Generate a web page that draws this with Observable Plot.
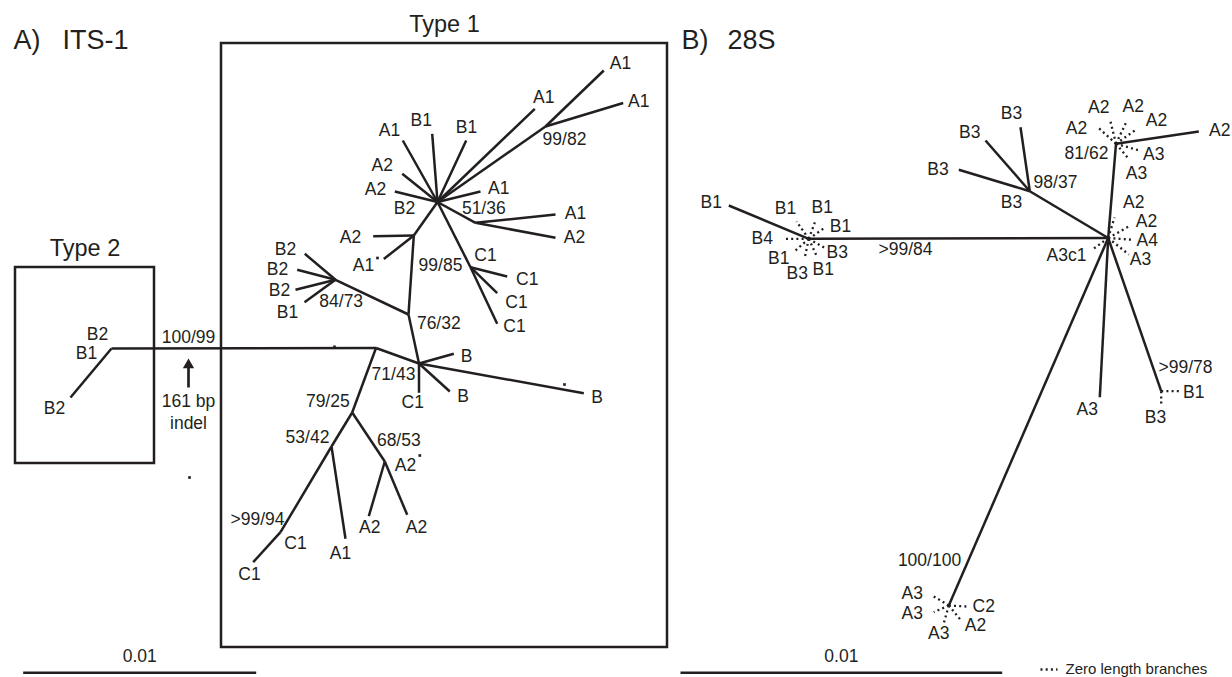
<!DOCTYPE html>
<html>
<head>
<meta charset="utf-8">
<script src="https://cdn.jsdelivr.net/npm/d3@7"></script>
<script src="https://cdn.jsdelivr.net/npm/@observablehq/plot@0.6"></script>
<style>
  html, body { margin: 0; padding: 0; background: #fff; }
  #chart svg { display: block; }
</style>
</head>
<body>
<div id="chart"></div>
<script>
// ---------- Layout coordinates of tree nodes (tree-drawing units) ----------
// Panel A: ITS-1
const itsNodes = [
  ["t2B2low", 70, 397], ["t2root", 111, 348], ["jMain", 375.5, 347.5],
  ["n71_43", 418.5, 363], ["n79_25", 351.7, 412], ["n53_42", 331, 446],
  ["nC1", 280, 531.7], ["tC1a", 252.7, 561.7], ["tA1c", 345, 538.3],
  ["n68_53", 384.3, 461], ["tA2c", 368.3, 515.7], ["tA2d", 406.7, 514.3],
  ["tBa", 453.3, 353.3], ["tBb", 449.3, 391], ["tC1e", 418.5, 392.3], ["tBc", 583.3, 392.7],
  ["n76_32", 408, 314], ["n84_73", 335, 279.3],
  ["tB2a", 304.3, 253.3], ["tB2b", 296.7, 269.3], ["tB2c", 295, 289.3], ["tB1a", 304, 301.7],
  ["nA2A1", 413.3, 235], ["tA2a", 372.7, 235.7], ["tA1a", 383.3, 258.5],
  ["star", 437, 201.5], ["tA1b", 534.3, 108.3], ["n99_82", 545, 126],
  ["tA1top", 603.3, 70], ["tA1r", 622.7, 102.5],
  ["tB1b", 465.7, 140], ["tB1c", 431.7, 133.3], ["tA1d", 402.3, 140],
  ["tA2e", 401.7, 173.3], ["tA2f", 394.3, 191], ["tA1e", 480, 191],
  ["n51_36", 475, 222.3], ["tA1f", 555, 214], ["tA2g", 555, 237.3],
  ["n99_85", 470, 266.7], ["tC1b", 496.7, 323.3], ["tC1c", 506.7, 276], ["tC1d", 496.7, 292.7]
];
const itsEdges = [
  ["t2B2low","t2root"], ["t2root","jMain"], ["jMain","n71_43"], ["jMain","n79_25"],
  ["n79_25","n53_42"], ["n53_42","nC1"], ["nC1","tC1a"], ["n53_42","tA1c"],
  ["n79_25","n68_53"], ["n68_53","tA2c"], ["n68_53","tA2d"],
  ["n71_43","tBa"], ["n71_43","tBb"], ["n71_43","tC1e"], ["n71_43","tBc"], ["n71_43","n76_32"],
  ["n76_32","n84_73"], ["n84_73","tB2a"], ["n84_73","tB2b"], ["n84_73","tB2c"], ["n84_73","tB1a"],
  ["n76_32","nA2A1"], ["nA2A1","tA2a"], ["nA2A1","tA1a"], ["nA2A1","star"],
  ["star","tA1b"], ["star","n99_82"], ["n99_82","tA1top"], ["n99_82","tA1r"],
  ["star","tB1b"], ["star","tB1c"], ["star","tA1d"], ["star","tA2e"], ["star","tA2f"], ["star","tA1e"],
  ["star","n51_36"], ["n51_36","tA1f"], ["n51_36","tA2g"],
  ["star","n99_85"], ["n99_85","tC1b"], ["n99_85","tC1c"], ["n99_85","tC1d"]
];

// Panel B: 28S
const lsuNodes = [
  ["nB1", 808.3, 238.3], ["tB1L", 728.3, 205], ["star2", 1107.7, 237.5],
  ["n98_37", 1029.3, 190.7], ["tB3a", 958.3, 169.3], ["tB3b", 985, 140], ["tB3c", 1020, 126.7],
  ["n81_62", 1115.5, 143.3], ["tA2R", 1198.3, 131], ["tA3m", 1099.3, 396.7],
  ["n99_78", 1160.7, 390.7], ["nC2", 948.3, 605]
];
const lsuEdges = [
  ["tB1L","nB1"], ["nB1","star2"], ["star2","n98_37"], ["n98_37","tB3a"], ["n98_37","tB3b"],
  ["n98_37","tB3c"], ["star2","n81_62"], ["n81_62","tA2R"], ["star2","tA3m"],
  ["star2","n99_78"], ["star2","nC2"]
];
// zero-length branches: [parent node, tip x, tip y]
const zeroBranches = [
  ["nB1", 785, 238.3], ["nB1", 796, 221], ["nB1", 815, 220], ["nB1", 825, 226.7],
  ["nB1", 824, 247.3], ["nB1", 795, 250], ["nB1", 804, 258.3], ["nB1", 816.7, 256.7],
  ["n81_62", 1097.3, 126.7], ["n81_62", 1110, 121], ["n81_62", 1125.7, 121.7],
  ["n81_62", 1136.7, 128.3], ["n81_62", 1139, 150], ["n81_62", 1129, 159.3],
  ["star2", 1114, 217], ["star2", 1130, 225], ["star2", 1132.7, 239.3],
  ["star2", 1128.3, 254], ["star2", 1091.7, 249.3],
  ["n99_78", 1178.3, 390.7], ["n99_78", 1160.7, 406],
  ["nC2", 931.7, 595], ["nC2", 933.3, 611.7], ["nC2", 943.3, 622.7], ["nC2", 960, 619.3], ["nC2", 966, 606]
];

// ---------- Labels ----------
const tipLabels = [
  ["B2",97,334],["B1",86,353],["B2",54,408],
  ["B2",285,249],["B2",277,269],["B2",279,290],["B1",287,311.7],
  ["A2",350,236.7],["A1",363,265],
  ["A1",389,130],["B1",420.7,120],["B1",466,126.7],
  ["A2",381.7,165],["A2",375,189.3],["B2",404,208.3],["A1",498.3,188.3],
  ["A1",543.3,96.7],["A1",620,63.3],["A1",638.3,100.7],
  ["A1",575,212.7],["A2",574,237.3],
  ["C1",485,255],["C1",526.7,279.3],["C1",516,301.7],["C1",514,326],
  ["B",466,356],["B",462.7,395.7],["C1",412.3,402.3],["B",596.7,396.7],
  ["A2",405,465],["A2",369.3,527.3],["A2",416,527.3],["A1",340,552.7],["C1",295,542.7],["C1",249,574],
  // 28S
  ["B1",710.7,201.7],["B1",785,208.3],["B1",821.7,206.7],["B1",840,226],["B4",761.7,238.3],
  ["B3",836.7,251.7],["B1",778.3,258.3],["B3",796.7,273.3],["B1",822.7,269.3],
  ["B3",937.5,169],["B3",969.3,131.7],["B3",1011,113.3],["B3",1011,201.7],
  ["A2",1076,127.7],["A2",1098.3,106.7],["A2",1132.7,106],["A2",1156,120],
  ["A3",1153.3,154],["A3",1136,172.7],["A2",1219.3,130],
  ["A2",1133.3,202.3],["A2",1146,220.7],["A4",1146.7,240],["A3",1140,259.3],["A3c1",1066,255],
  ["A3",1086.7,409],["B1",1193.3,391.7],["B3",1155,416.7],
  ["A3",911.7,593.3],["A3",911.7,613.3],["A3",938.3,633.3],["A2",975,625],["C2",983.3,606]
];
const supportLabels = [
  ["100/99",188,337],["84/73",340.7,300.7],["76/32",438.3,322.7],["99/85",440,265],
  ["51/36",483.3,208.3],["99/82",564,139.3],["71/43",393,374],["79/25",327.3,400.7],
  ["53/42",307,436.5],["68/53",398.3,439.5],[">99/94",257,519],
  [">99/84",905,249.3],["98/37",1055,181.7],["81/62",1086,152.7],[">99/78",1185,366.7],["100/100",929,560]
];
const notes = [["161 bp",188,400.7],["indel",188,422.7]];
const panelTitles = [["A)",13,40],["ITS-1",62,40],["B)",681,40],["28S",727,40]];
const typeBoxes = [
  {label:"Type 2", x1:15, y1:267, x2:154, y2:463},
  {label:"Type 1", x1:221, y1:43, x2:667, y2:647}
];
const scaleBars = [
  {label:"0.01", x1:22.7, x2:255.7, y:672.3},
  {label:"0.01", x1:680, x2:1001.7, y:672.3}
];
const indelArrow = {x:188, yFrom:387, yTo:364.6};
const specks = [[189,477],[377,257.5],[564,384],[419.3,455],[334,346.3]];
const legendItem = {label:"Zero length branches", x1:1040, x2:1057, y:669};

// ---------- Build tables ----------
const pos = new Map([...itsNodes, ...lsuNodes].map(([id,x,y]) => [id,{x,y}]));
const solid = [...itsEdges, ...lsuEdges].map(([a,b]) => ({x1:pos.get(a).x, y1:pos.get(a).y, x2:pos.get(b).x, y2:pos.get(b).y}));
const zero = zeroBranches.map(([a,x,y]) => ({x1:pos.get(a).x, y1:pos.get(a).y, x2:x, y2:y}));
const toText = arr => arr.map(([text,x,y]) => ({text,x,y}));

const ink = "#231f20";
const W = 1232, H = 677;

const chart = Plot.plot({
  width: W, height: H,
  margin: 0,
  x: {domain: [0, W], range: [0, W], axis: null},
  y: {domain: [0, H], range: [0, H], axis: null},
  style: {fontFamily: "'Liberation Sans', Arial, Helvetica, sans-serif", color: ink, background: "#fff"},
  marks: [
    Plot.rect(typeBoxes, {x1:"x1", y1:"y1", x2:"x2", y2:"y2", fill:"none", stroke:ink, strokeWidth:2.5}),
    Plot.text(typeBoxes, {x: d => (d.x1 + d.x2) / 2, y: "y1", text:"label", dy:-19, fontSize:23.5, fill:ink}),
    Plot.link(solid, {x1:"x1", y1:"y1", x2:"x2", y2:"y2", stroke:ink, strokeWidth:2.5}),
    Plot.link(zero, {x1:"x1", y1:"y1", x2:"x2", y2:"y2", stroke:ink, strokeWidth:2.3, strokeDasharray:"2 3.2"}),
    Plot.dot(specks.map(([x,y])=>({x,y})), {x:"x", y:"y", r:1.5, symbol:"square", fill:ink, stroke:"none"}),
    Plot.link([indelArrow], {x1:"x", x2:"x", y1:"yFrom", y2:"yTo", stroke:ink, strokeWidth:2.7}),
    Plot.dot([indelArrow], {x:"x", y:"yTo", symbol:"triangle", r:4.2, fill:ink, stroke:"none"}),
    Plot.text(toText(tipLabels), {x:"x", y:"y", text:"text", fontSize:17.5, fill:ink}),
    Plot.text(toText(supportLabels), {x:"x", y:"y", text:"text", fontSize:17.5, fill:ink}),
    Plot.text(toText(notes), {x:"x", y:"y", text:"text", fontSize:17.5, fill:ink}),
    Plot.text(toText(panelTitles), {x:"x", y:"y", text:"text", fontSize:27, textAnchor:"start", fill:ink}),
    Plot.link(scaleBars, {x1:"x1", x2:"x2", y1:"y", y2:"y", stroke:ink, strokeWidth:2.5}),
    Plot.text(scaleBars, {x: d => (d.x1 + d.x2) / 2, y:"y", text:"label", dy:-16, fontSize:17.5, fill:ink}),
    Plot.link([legendItem], {x1:"x1", x2:"x2", y1:"y", y2:"y", stroke:ink, strokeWidth:2.3, strokeDasharray:"2 3.2"}),
    Plot.text([legendItem], {x:"x2", y:"y", text:"label", dx:8, textAnchor:"start", fontSize:15, fill:ink})
  ]
});
document.getElementById("chart").appendChild(chart);
</script>
</body>
</html>
